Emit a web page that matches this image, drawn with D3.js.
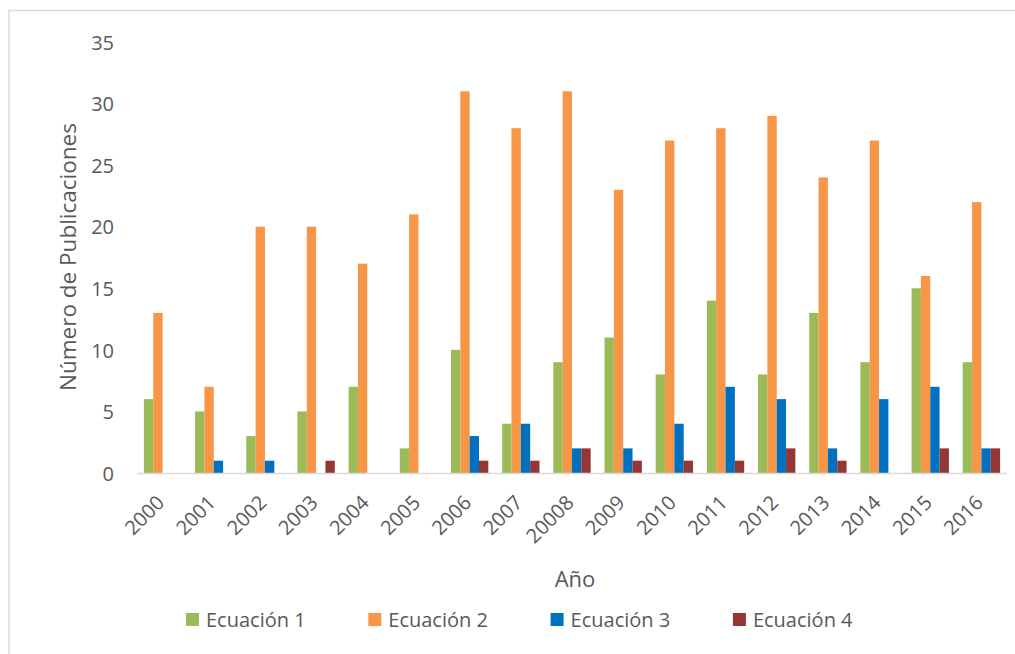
<!DOCTYPE html>
<html>
<head>
<meta charset="utf-8">
<script src="https://cdn.jsdelivr.net/npm/d3@7"></script>
<style>
  html, body { margin: 0; padding: 0; background: #fff; }
  svg { display: block; font-family: "Open Sans", "Noto Sans", sans-serif; }
</style>
</head>
<body>
<svg id="chart" width="1015" height="654"></svg>
<script>
// Publications per year for each equation
const years = ["2000","2001","2002","2003","2004","2005","2006","2007","20008","2009","2010","2011","2012","2013","2014","2015","2016"];
const ecuacion1 = [6, 5, 3, 5, 7, 2, 10, 4, 9, 11, 8, 14, 8, 13, 9, 15, 9];
const ecuacion2 = [13, 7, 20, 20, 17, 21, 31, 28, 31, 23, 27, 28, 29, 24, 27, 16, 22];
const ecuacion3 = [0, 1, 1, 0, 0, 0, 3, 4, 2, 2, 4, 7, 6, 2, 6, 7, 2];
const ecuacion4 = [0, 0, 0, 1, 0, 0, 1, 1, 2, 1, 1, 1, 2, 1, 0, 2, 2];
const seriesNames = ["Ecuación 1", "Ecuación 2", "Ecuación 3", "Ecuación 4"];
const seriesColors = ["#9BBB59", "#F79646", "#0070C0", "#943634"];
const yTicks = [0, 5, 10, 15, 20, 25, 30, 35];

const seriesValues = [ecuacion1, ecuacion2, ecuacion3, ecuacion4];
const rows = years.map((yr, i) => ({ year: yr, values: seriesValues.map(s => s[i]) }));

const svg = d3.select("#chart");
const textColor = "#595959";
const lineColor = "#d9d9d9";

// chart frame (runs past the right and bottom edges)
svg.append("rect")
  .attr("x", 9).attr("y", 10.5)
  .attr("width", 1100).attr("height", 700)
  .attr("fill", "none")
  .attr("stroke", lineColor)
  .attr("stroke-width", 1.5);

const plot = { left: 137, right: 1007, top: 42, bottom: 473 };

const x = d3.scaleBand()
  .domain(years)
  .range([plot.left, plot.right])
  .paddingInner(0.27)
  .paddingOuter(0.135);

const xs = d3.scaleBand()
  .domain(d3.range(seriesNames.length))
  .range([0, x.bandwidth()]);

const y = d3.scaleLinear()
  .domain([0, 35])
  .range([plot.bottom, plot.top]);

// bars
const groups = svg.append("g").selectAll("g")
  .data(rows)
  .join("g")
  .attr("transform", d => `translate(${x(d.year)},0)`);

groups.selectAll("rect")
  .data(d => d.values.map((v, k) => ({ v, k })).filter(e => e.v > 0))
  .join("rect")
  .attr("x", e => xs(e.k))
  .attr("width", xs.bandwidth())
  .attr("y", e => y(e.v))
  .attr("height", e => y(0) - y(e.v))
  .attr("fill", e => seriesColors[e.k]);

// y axis labels (no axis line)
const yAxis = svg.append("g")
  .attr("transform", "translate(114,0)")
  .call(d3.axisLeft(y).tickValues(yTicks).tickSize(0).tickPadding(0));
yAxis.select(".domain").remove();
yAxis.selectAll("text")
  .attr("fill", textColor)
  .attr("font-size", 20)
  .attr("font-family", "'Open Sans', sans-serif")
  .attr("dy", "0.36em");

// x axis baseline
svg.append("line")
  .attr("x1", plot.left).attr("x2", plot.right)
  .attr("y1", y(0) + 0.5).attr("y2", y(0) + 0.5)
  .attr("stroke", lineColor)
  .attr("stroke-width", 1.5);

// x axis labels, rotated
const xAxis = svg.append("g")
  .attr("transform", `translate(0,${plot.bottom})`)
  .call(d3.axisBottom(x).tickSize(0).tickPadding(0));
xAxis.select(".domain").remove();
xAxis.selectAll("text")
  .attr("fill", textColor)
  .attr("font-size", 20)
  .attr("font-family", "'Open Sans', sans-serif")
  .attr("text-anchor", "end")
  .attr("dy", null)
  .attr("y", 0)
  .attr("transform", "translate(3,31) rotate(-45)");

// axis titles
svg.append("text")
  .attr("transform", "translate(76,257) rotate(-90)")
  .attr("text-anchor", "middle")
  .attr("fill", textColor)
  .attr("font-size", 22.5)
  .text("Número de Publicaciones");

svg.append("text")
  .attr("x", 575).attr("y", 587)
  .attr("text-anchor", "middle")
  .attr("fill", textColor)
  .attr("font-size", 22)
  .text("Año");

// legend
const legend = svg.append("g").selectAll("g")
  .data(seriesNames)
  .join("g")
  .attr("transform", (d, i) => `translate(${186 + i * 182.3},613)`);
legend.append("rect")
  .attr("width", 13).attr("height", 13)
  .attr("fill", (d, i) => seriesColors[i]);
legend.append("text")
  .attr("x", 20).attr("y", 14)
  .attr("fill", textColor)
  .attr("font-size", 20)
  .text(d => d);
</script>
</body>
</html>
